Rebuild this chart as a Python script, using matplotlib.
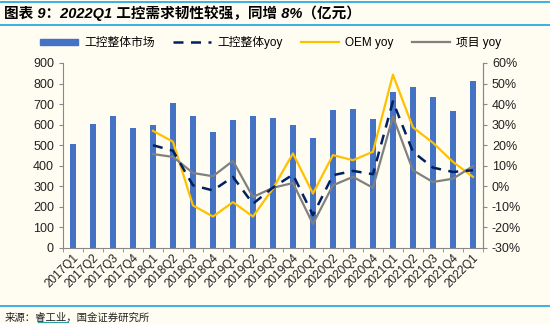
import numpy as np
import matplotlib
matplotlib.use('Agg')
from matplotlib import pyplot as plt
from matplotlib.lines import Line2D
from matplotlib.patches import Patch

plt.rcParams['font.family'] = ['Liberation Sans', 'Noto Sans CJK SC', 'DejaVu Sans']
plt.rcParams['axes.unicode_minus'] = False

quarters = ['2017Q1', '2017Q2', '2017Q3', '2017Q4', '2018Q1', '2018Q2', '2018Q3',
            '2018Q4', '2019Q1', '2019Q2', '2019Q3', '2019Q4', '2020Q1', '2020Q2',
            '2020Q3', '2020Q4', '2021Q1', '2021Q2', '2021Q3', '2021Q4', '2022Q1']
market = [505, 605, 642, 585, 600, 705, 641, 566, 621, 640, 633, 600, 537, 673,
          678, 626, 758, 782, 733, 668, 813]
# yoy series start at 2018Q1
total_yoy = [20.0, 17.3, 0.5, -2.0, 4.6, -8.5, -0.6, 5.7, -14.0, 5.4, 7.5, 5.9,
             41.3, 16.8, 9.1, 7.0, 7.8]
oem_yoy = [27.0, 21.7, -9.3, -14.7, -7.7, -14.7, -1.1, 16.0, -3.5, 15.2, 12.7,
           16.8, 54.3, 28.7, 21.2, 11.9, 4.6]
proj_yoy = [15.7, 14.3, 6.5, 4.9, 12.4, -5.2, -0.7, 1.6, -18.3, 0.5, 4.6, -0.7,
            33.9, 7.8, 2.1, 3.7, 9.8]
left_ticks = list(range(0, 901, 100))
right_ticks = list(range(-30, 61, 10))

bg = '#FFFCF2'
fig = plt.figure(figsize=(5.5, 3.24), dpi=100, facecolor=bg)
ax = fig.add_axes([0.1145, 0.2346, 0.7635, 0.571])
ax.set_facecolor(bg)
ax2 = ax.twinx()

x = np.arange(len(quarters))
xl = x[4:]
ax.bar(x, market, width=0.34, color='#4472C4', zorder=2)
ax2.plot(xl, oem_yoy, color='#FFC000', lw=1.6, zorder=3)
ax2.plot(xl, proj_yoy, color='#808080', lw=1.6, zorder=3)
ax2.plot(xl, total_yoy, color='#002060', lw=1.8, ls=(0, (4, 3)), zorder=4)

ax.set_xlim(-0.5, len(quarters) - 0.5)
ax.set_ylim(0, 900)
ax2.set_ylim(-30, 60)
ax.set_yticks(left_ticks)
ax2.set_yticks(right_ticks)
ax2.set_yticklabels(['%d%%' % v for v in right_ticks])

ax.set_xticks(x)
ax.set_xticklabels(quarters, rotation=45, ha='right', va='top',
                   rotation_mode='anchor', fontsize=8.5, color='#222222')
ax.set_xticks(np.arange(-0.5, len(quarters)), minor=True)
ax.tick_params(axis='x', which='major', length=0, pad=3)
ax.tick_params(axis='x', which='minor', length=3, color='#888888')
ax.tick_params(axis='y', labelsize=9, length=3, color='#888888', labelcolor='#222222')
ax2.tick_params(axis='y', labelsize=9, length=3, color='#888888', labelcolor='#222222')

for a in (ax, ax2):
    a.spines['top'].set_visible(False)
    for s in ('left', 'right', 'bottom'):
        a.spines[s].set_color('#888888')
ax2.spines['left'].set_visible(False)
ax2.spines['bottom'].set_visible(False)

handles = [Patch(color='#4472C4'),
           Line2D([], [], color='#002060', lw=1.8, ls=(0, (4, 3))),
           Line2D([], [], color='#FFC000', lw=1.6),
           Line2D([], [], color='#808080', lw=1.6)]
labels = ['工控整体市场', '工控整体yoy', 'OEM yoy', '项目 yoy']
fig.legend(handles, labels, loc='center', bbox_to_anchor=(0.492, 0.868), ncol=4,
           frameon=False, fontsize=8.5, handlelength=3.2, columnspacing=1.6,
           handleheight=0.5, handletextpad=0.5)

# title and footer
fig.text(0.008, 0.958, '图表 9：2022Q1 工控需求韧性较强，同增 8%（亿元）',
         fontsize=10.5, fontweight='bold', style='italic', ha='left', va='center')
fig.add_artist(Line2D([0, 1], [0.994, 0.994], color='#1AA3DD', lw=1.2))
fig.add_artist(Line2D([0, 1], [0.922, 0.922], color='#1AA3DD', lw=1.2))
fig.add_artist(Line2D([0, 1], [0.056, 0.056], color='#1AA3DD', lw=1.2))
fig.text(0.008, 0.02, '来源：睿工业，国金证券研究所', fontsize=7.5,
         ha='left', va='center', color='#222222')
fig.add_artist(Line2D([0.069, 0.124], [0.005, 0.005], color='#2A9D9D', lw=0.8))

fig.savefig('out.png', dpi=100, facecolor=bg)
